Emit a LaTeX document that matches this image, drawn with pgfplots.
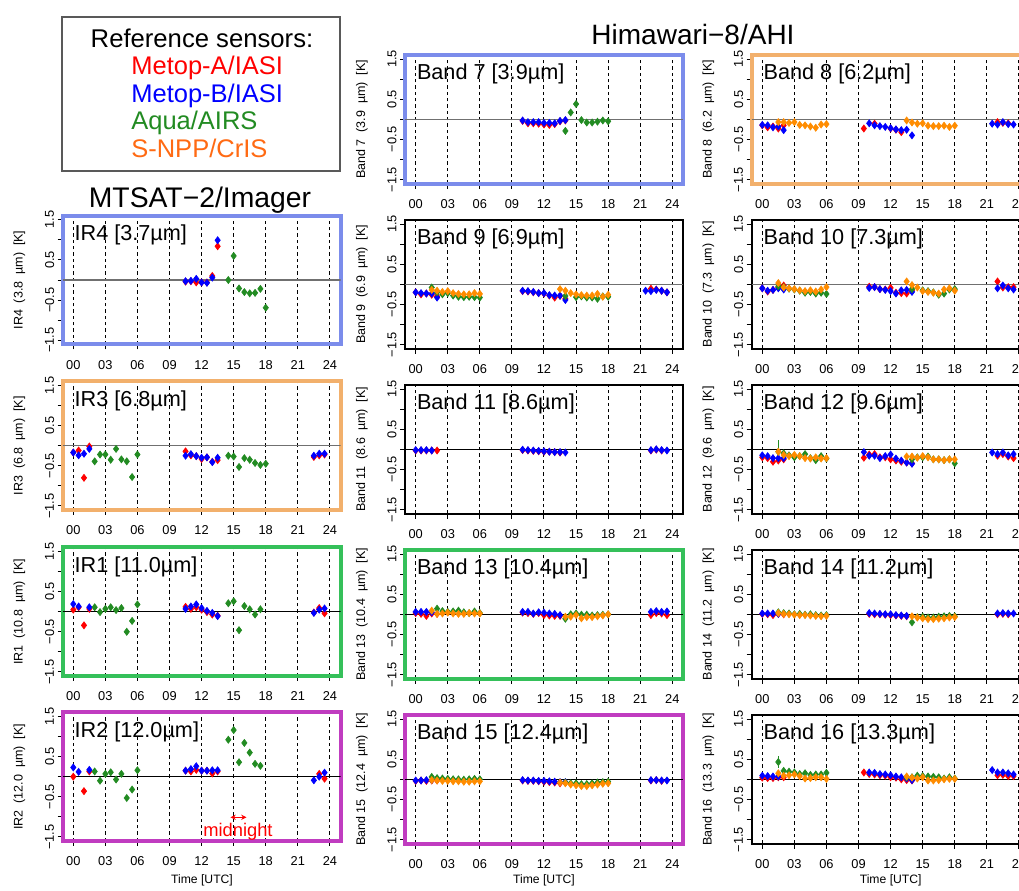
\documentclass[border=0pt]{standalone}
\usepackage{fontspec}
\setmainfont{Liberation Sans}
\usepackage{pgfplots}
\pgfplotsset{compat=1.18}
\usetikzlibrary{arrows.meta}

\definecolor{bdblue}{HTML}{7B8CEB}
\definecolor{bdorange}{HTML}{F2B06C}
\definecolor{bdgreen}{HTML}{35C05A}
\definecolor{bdmag}{HTML}{C03CC0}
\definecolor{mred}{HTML}{FF0000}
\definecolor{mblue}{HTML}{0000FF}
\definecolor{mgreen}{HTML}{228B22}
\definecolor{morange}{HTML}{FF8C00}
\definecolor{lorange}{HTML}{FF6A13}
\definecolor{zgray}{HTML}{707070}

\pgfplotsset{
  panel/.style={
    anchor=south west, scale only axis, width=166.8pt, height=77.16pt,
    xmin=-1, xmax=25, ymin=-1.6, ymax=1.6,
    xtick={0,3,6,9,12,15,18,21,24},
    xticklabels={00,03,06,09,12,15,18,21,24},
    ytick={-1.5,-1,-0.5,0,0.5,1,1.5},
    yticklabels={−1.5,,−0.5,,0.5,,1.5},
    xtick pos=bottom, ytick pos=left,
    tick align=outside, major tick length=3pt,
    every tick/.style={black, line width=0.6pt},
    xmajorgrids, major grid style={black, line width=0.6pt, dash pattern=on 2pt off 1.8pt},
    tick label style={font=\fontsize{7.7}{8}\selectfont, inner sep=0pt},
    xticklabel style={anchor=center}, xticklabel shift=9.3pt,
    yticklabel style={rotate=90, anchor=center}, yticklabel shift=4.8pt,
    axis line style={black, line width=1.1pt},
    ylabel style={at={(axis description cs:-0.155,0.5)}, anchor=center,
      font=\fontsize{7.5}{9}\selectfont},
  },
  bd/.style={axis line style={#1, line width=2.4pt}},
  sR/.style={only marks, mark=diamond*, mark size=2.1pt, color=mred},
  sB/.style={only marks, mark=diamond*, mark size=2.1pt, color=mblue},
  sG/.style={only marks, mark=diamond*, mark size=2.1pt, color=mgreen},
  sO/.style={only marks, mark=diamond*, mark size=2.1pt, color=morange},
}
\newcommand{\ttl}[1]{\node[anchor=base west, inner sep=0pt, xshift=7pt, yshift=-15pt,
  font=\fontsize{13}{15}\selectfont] at (rel axis cs:0,1) {#1};}
\newcommand{\zl}[1]{\addplot[#1, line width=0.8pt, forget plot] coordinates {(-1,0) (25,0)};}

\begin{document}
\begin{tikzpicture}
\path[use as bounding box, clip] (0,0) rectangle (611.4pt,534.6pt);

% legend box and titles
\draw[black!65, line width=0.9pt] (37.2pt,432pt) rectangle (204pt,524.4pt);
\node[anchor=base, inner sep=0pt, font=\fontsize{15.4}{17}\selectfont] at (121.2pt,506pt) {Reference sensors:};
\node[anchor=base west, inner sep=0pt, font=\fontsize{15.3}{17}\selectfont, text=mred] at (78.6pt,489.6pt) {Metop-A/IASI};
\node[anchor=base west, inner sep=0pt, font=\fontsize{15.3}{17}\selectfont, text=mblue] at (78.6pt,473.2pt) {Metop-B/IASI};
\node[anchor=base west, inner sep=0pt, font=\fontsize{15.3}{17}\selectfont, text=mgreen] at (78.6pt,456.6pt) {Aqua/AIRS};
\node[anchor=base west, inner sep=0pt, font=\fontsize{15.3}{17}\selectfont, text=lorange] at (78.6pt,440.2pt) {S-NPP/CrIS};
\node[anchor=base, inner sep=0pt, font=\fontsize{17}{19}\selectfont] at (120pt,409.8pt) {MTSAT−2/Imager};
\node[anchor=base, inner sep=0pt, font=\fontsize{16.8}{19}\selectfont] at (415.8pt,507.6pt) {Himawari−8/AHI};
\node[anchor=base, inner sep=0pt, font=\fontsize{7.3}{9}\selectfont] at (121.2pt,4.2pt) {Time [UTC]};
\node[anchor=base, inner sep=0pt, font=\fontsize{7.3}{9}\selectfont] at (326.4pt,4.2pt) {Time [UTC]};
\node[anchor=base, inner sep=0pt, font=\fontsize{7.3}{9}\selectfont] at (534.4pt,4.2pt) {Time [UTC]};

% ---------------- MTSAT-2 column ----------------
\begin{axis}[panel, bd=bdblue, at={(37.56pt,328pt)}, ylabel={IR4\ \ (3.8\ \ µm)\ \ [K]}]
\zl{zgray}
\addplot[sR] coordinates {(10.5,-0.04)(11,-0.03)(11.5,-0.06)(12,-0.06)(12.5,-0.06)(13,0.1)(13.5,0.84)};
\addplot[sB] coordinates {(10.5,-0.03)(11,-0.02)(11.5,0.03)(12,-0.06)(12.5,-0.07)(13,0.06)(13.5,0.99)};
\addplot[sG] coordinates {(14.5,0)(15,0.6)(15.5,-0.21)(16,-0.3)(16.5,-0.33)(17,-0.32)(17.5,-0.22)(18,-0.69)};
\ttl{IR4 [3.7µm]}
\end{axis}

\begin{axis}[panel, bd=bdorange, at={(37.56pt,228.6pt)}, ylabel={IR3\ \ (6.8\ \ µm)\ \ [K]}]
\zl{zgray}
\addplot[sR] coordinates {(0,-0.17)(0.5,-0.12)(1,-0.8)(1.5,-0.02)(10.5,-0.14)(11,-0.24)(11.5,-0.26)(12,-0.33)(12.5,-0.29)(13,-0.4)(13.5,-0.36)(22.5,-0.28)(23,-0.24)(23.5,-0.22)};
\addplot[sB] coordinates {(0,-0.17)(0.5,-0.24)(1,-0.2)(1.5,-0.08)(10.5,-0.25)(11,-0.21)(11.5,-0.26)(12,-0.3)(12.5,-0.29)(13,-0.41)(13.5,-0.3)(22.5,-0.25)(23,-0.2)(23.5,-0.2)};
\addplot[sG] coordinates {(2,-0.39)(2.5,-0.22)(3,-0.22)(3.5,-0.35)(4,-0.08)(4.5,-0.34)(5,-0.39)(5.5,-0.78)(6,-0.22)(14.5,-0.25)(15,-0.27)(15.5,-0.53)(16,-0.31)(16.5,-0.35)(17,-0.43)(17.5,-0.48)(18,-0.45)};
\ttl{IR3 [6.8µm]}
\end{axis}

\begin{axis}[panel, bd=bdgreen, at={(37.56pt,129pt)}, ylabel={IR1\ \ (10.8\ \ µm)\ \ [K]}]
\zl{black}
\addplot[sR] coordinates {(0,0.05)(0.5,0.11)(1,-0.34)(1.5,0.07)(10.5,0.12)(11,0.07)(11.5,0.11)(12,0.05)(12.5,-0.01)(13,-0.07)(13.5,-0.1)(22.5,-0.02)(23,0.09)(23.5,-0.04)};
\addplot[sB] coordinates {(0,0.19)(0.5,0.13)(1.5,0.11)(10.5,0.07)(11,0.13)(11.5,0.18)(12,0.09)(12.5,0.02)(13,-0.03)(13.5,-0.11)(22.5,-0.03)(23,0.05)(23.5,0.08)};
\addplot[sG] coordinates {(2,0.11)(2.5,-0.01)(3,0.07)(3.5,0.11)(4,0.04)(4.5,0.09)(5,-0.5)(5.5,-0.23)(6,0.18)(14.5,0.21)(15,0.26)(15.5,-0.46)(16,0.14)(16.5,0.06)(17,-0.07)(17.5,0.06)};
\ttl{IR1 [11.0µm]}
\end{axis}

\begin{axis}[panel, bd=bdmag, at={(37.56pt,30pt)}, ylabel={IR2\ \ (12.0\ \ µm)\ \ [K]}]
\zl{black}
\addplot[sR] coordinates {(0,0)(1,-0.36)(1.5,0.13)(10.5,0.15)(11,0.13)(11.5,0.17)(12,0.15)(12.5,0.15)(13,0.08)(13.5,0.13)(23,0.07)(23.5,-0.05)};
\addplot[sB] coordinates {(0,0.23)(0.5,0.12)(1.5,0.17)(10.5,0.15)(11,0.19)(11.5,0.26)(12,0.15)(12.5,0.15)(13,0.16)(13.5,0.16)(22.5,-0.09)(23,0)(23.5,0.1)};
\addplot[sG] coordinates {(2,0.13)(2.5,-0.1)(3,0.07)(3.5,0.11)(4,-0.07)(4.5,0.07)(5,-0.53)(5.5,-0.32)(6,0.16)(14.5,0.92)(15,1.16)(15.5,0.36)(16,0.84)(16.5,0.6)(17,0.32)(17.5,0.27)};
\draw[mred, line width=0.7pt, {Stealth[length=3.2pt,width=3.2pt]}-{Stealth[length=3.2pt,width=3.2pt]}] (axis cs:14.7,-1.01) -- (axis cs:16.2,-1.01);
\node[text=mred, inner sep=0pt, font=\fontsize{11}{12}\selectfont] at (axis cs:15.4,-1.36) {midnight};
\ttl{IR2 [12.0µm]}
\end{axis}

% ---------------- Himawari column 1 ----------------
\begin{axis}[panel, bd=bdblue, at={(243pt,424.44pt)}, ylabel={Band 7\ \ (3.9\ \ µm)\ \ [K]}]
\zl{zgray}
\addplot[sR] coordinates {(10,-0.04)(10.5,-0.1)(11,-0.1)(11.5,-0.11)(12,-0.13)(12.5,-0.14)(13,-0.12)(13.5,-0.05)(14,-0.03)};
\addplot[sB] coordinates {(10,-0.03)(10.5,-0.07)(11,-0.07)(11.5,-0.07)(12,-0.09)(12.5,-0.09)(13,-0.1)(13.5,-0.04)(14,-0.02)};
\addplot[sG] coordinates {(14,-0.29)(14.5,0.17)(15,0.38)(15.5,-0.02)(16,-0.08)(16.5,-0.08)(17,-0.06)(17.5,-0.03)(18,-0.05)};
\ttl{Band 7 [3.9µm]}
\end{axis}

\begin{axis}[panel, at={(243pt,325.44pt)}, ylabel={Band 9\ \ (6.9\ \ µm)\ \ [K]}]
\zl{zgray}
\addplot[sR] coordinates {(0,-0.2)(0.5,-0.25)(1,-0.23)(1.5,-0.26)(2,-0.3)(10,-0.17)(10.5,-0.18)(11,-0.2)(11.5,-0.22)(12,-0.23)(12.5,-0.28)(13,-0.33)(13.5,-0.29)(14,-0.36)(22,-0.11)(22.5,-0.13)(23,-0.16)(23.5,-0.2)};
\addplot[sB] coordinates {(0,-0.2)(0.5,-0.22)(1,-0.23)(1.5,-0.23)(2,-0.33)(10,-0.16)(10.5,-0.17)(11,-0.19)(11.5,-0.22)(12,-0.22)(12.5,-0.27)(13,-0.28)(13.5,-0.28)(14,-0.39)(21.5,-0.16)(22,-0.17)(22.5,-0.14)(23,-0.16)(23.5,-0.2)};
\addplot[sG] coordinates {(1.5,-0.08)(2,-0.2)(2.5,-0.25)(3,-0.22)(3.5,-0.28)(4,-0.31)(4.5,-0.32)(5,-0.31)(5.5,-0.32)(6,-0.33)(14,-0.29)(15,-0.32)(15.5,-0.3)(16,-0.33)(16.5,-0.33)(17,-0.36)(17.5,-0.3)(18,-0.31)};
\addplot[sO] coordinates {(1.5,-0.14)(2,-0.16)(2.5,-0.19)(3,-0.17)(3.5,-0.22)(4,-0.24)(4.5,-0.25)(5,-0.25)(5.5,-0.22)(6,-0.24)(13.5,-0.12)(14,-0.16)(14.5,-0.22)(15,-0.25)(15.5,-0.27)(16,-0.28)(16.5,-0.28)(17,-0.24)(17.5,-0.31)(18,-0.26)};
\ttl{Band 9 [6.9µm]}
\end{axis}

\begin{axis}[panel, at={(243pt,226.44pt)}, ylabel={Band 11\ \ (8.6\ \ µm)\ \ [K]}]
\zl{black}
\addplot[sR] coordinates {(0,-0.03)(0.5,-0.03)(1,-0.03)(1.5,-0.03)(2,-0.03)(10,-0.02)(10.5,-0.03)(11,-0.04)(11.5,-0.05)(12,-0.06)(12.5,-0.06)(13,-0.07)(13.5,-0.08)(22,-0.03)(22.5,-0.01)(23,-0.03)};
\addplot[sB] coordinates {(0,-0.02)(0.5,-0.02)(1,-0.02)(1.5,-0.03)(10,-0.01)(10.5,-0.02)(11,-0.03)(11.5,-0.04)(12,-0.05)(12.5,-0.06)(13,-0.07)(13.5,-0.07)(14,-0.08)(22,-0.02)(22.5,0)(23,-0.02)(23.5,-0.03)};
\ttl{Band 11 [8.6µm]}
\end{axis}

\begin{axis}[panel, bd=bdgreen, at={(243pt,127.44pt)}, ylabel={Band 13\ \ (10.4\ \ µm)\ \ [K]}]
\zl{black}
\addplot[sR] coordinates {(0,0.03)(0.5,0.01)(1,-0.04)(1.5,0.02)(2,0.01)(10,0.04)(10.5,0.03)(11,0.01)(11.5,0.03)(12,-0.02)(12.5,-0.03)(13,-0.04)(13.5,-0.04)(22,-0.02)(22.5,0.03)(23,0.02)(23.5,-0.02)};
\addplot[sB] coordinates {(0,0.06)(0.5,0.06)(1,0.06)(1.5,0.05)(10,0.06)(10.5,0.06)(11,0.02)(11.5,0.05)(12,0.04)(12.5,0.02)(13,0.01)(13.5,-0.02)(22,0.06)(22.5,0.08)(23,0.06)(23.5,0.07)};
\addplot[sG] coordinates {(2,0.14)(2.5,0.08)(3,0.06)(3.5,0.07)(4,0.09)(4.5,0.05)(5,0.03)(5.5,0.07)(6,0.03)(14,-0.11)(14.5,0)(15,0.02)(15.5,-0.01)(16,-0.01)(16.5,-0.03)(17,-0.02)(17.5,-0.01)(18,0)};
\addplot[sO] coordinates {(1.5,0.09)(2,0.01)(2.5,0.02)(3,0.04)(3.5,0.02)(4,0.01)(4.5,0.01)(5,0.03)(5.5,0.02)(6,0.02)(14,-0.06)(14.5,-0.06)(15,-0.02)(15.5,-0.1)(16,-0.07)(16.5,-0.07)(17,-0.05)(17.5,-0.03)(18,0)};
\ttl{Band 13 [10.4µm]}
\end{axis}

\begin{axis}[panel, bd=bdmag, at={(243pt,28.44pt)}, ylabel={Band 15\ \ (12.4\ \ µm)\ \ [K]}]
\zl{black}
\addplot[sR] coordinates {(0,-0.04)(0.5,-0.03)(1,-0.04)(1.5,-0.03)(2,-0.03)(10,-0.03)(10.5,-0.04)(11,-0.04)(11.5,-0.05)(12,-0.06)(12.5,-0.07)(13,-0.08)(13.5,-0.1)(14,-0.08)(22,-0.03)(22.5,-0.02)(23,-0.04)};
\addplot[sB] coordinates {(0,-0.03)(0.5,-0.03)(1,-0.02)(1.5,-0.02)(10,-0.02)(10.5,-0.03)(11,-0.03)(11.5,-0.04)(12,-0.04)(12.5,-0.05)(13,-0.06)(13.5,-0.07)(14,-0.07)(22,-0.02)(22.5,-0.02)(23,-0.03)(23.5,-0.03)};
\addplot[sG] coordinates {(1.5,0.06)(2,0.03)(2.5,0.02)(3,0.01)(3.5,0)(4,0)(4.5,-0.01)(5,0)(5.5,0.01)(6,0)(14,-0.08)(14.5,-0.1)(15,-0.1)(15.5,-0.12)(16,-0.12)(16.5,-0.1)(17,-0.08)(17.5,-0.07)(18,-0.06)};
\addplot[sO] coordinates {(1.5,-0.02)(2,-0.03)(2.5,-0.04)(3,-0.04)(3.5,-0.05)(4,-0.05)(4.5,-0.06)(5,-0.06)(5.5,-0.05)(6,-0.05)(13.5,-0.08)(14,-0.1)(14.5,-0.13)(15,-0.15)(15.5,-0.17)(16,-0.17)(16.5,-0.15)(17,-0.13)(17.5,-0.11)(18,-0.1)};
\ttl{Band 15 [12.4µm]}
\end{axis}

% ---------------- Himawari column 2 ----------------
\begin{axis}[panel, bd=bdorange, at={(450.96pt,424.44pt)}, ylabel={Band 8\ \ (6.2\ \ µm)\ \ [K]}]
\zl{zgray}
\addplot[sR] coordinates {(0,-0.15)(0.5,-0.2)(1,-0.18)(1.5,-0.23)(2,-0.15)(9.5,-0.23)(10.5,-0.11)(12,-0.23)(12.5,-0.26)(13,-0.32)(22,-0.07)(22.5,-0.09)(23,-0.1)};
\addplot[sB] coordinates {(0,-0.14)(0.5,-0.15)(1,-0.2)(1.5,-0.18)(2,-0.27)(10,-0.1)(10.5,-0.15)(11,-0.17)(11.5,-0.19)(12,-0.22)(12.5,-0.25)(13,-0.27)(13.5,-0.26)(14,-0.4)(21.5,-0.11)(22,-0.13)(22.5,-0.07)(23,-0.12)(23.5,-0.13)};
\addplot[sO] coordinates {(1.5,-0.07)(2,-0.07)(2.5,-0.09)(3,-0.07)(3.5,-0.14)(4,-0.15)(4.5,-0.18)(5,-0.21)(5.5,-0.13)(6,-0.12)(13.5,-0.03)(14,-0.08)(14.5,-0.11)(15,-0.1)(15.5,-0.16)(16,-0.17)(16.5,-0.17)(17,-0.16)(17.5,-0.19)(18,-0.16)};
\ttl{Band 8 [6.2µm]}
\end{axis}

\begin{axis}[panel, at={(450.96pt,325.44pt)}, ylabel={Band 10\ \ (7.3\ \ µm)\ \ [K]}]
\zl{zgray}
\addplot[sR] coordinates {(0,-0.1)(0.5,-0.18)(1,-0.14)(1.5,-0.08)(2,-0.03)(10,-0.06)(10.5,-0.07)(11,-0.12)(11.5,-0.13)(12,-0.09)(12.5,-0.21)(13,-0.22)(13.5,-0.23)(14,-0.15)(22,0.07)(22.5,-0.08)(23,-0.07)(23.5,-0.07)};
\addplot[sB] coordinates {(0,-0.1)(0.5,-0.16)(1,-0.14)(1.5,-0.1)(2,-0.13)(10,-0.09)(10.5,-0.07)(11,-0.12)(11.5,-0.14)(12,-0.17)(12.5,-0.23)(13,-0.15)(13.5,-0.14)(14,-0.19)(22,-0.1)(22.5,-0.03)(23,-0.1)(23.5,-0.13)};
\addplot[sG] coordinates {(1.5,-0.05)(2,-0.07)(2.5,-0.11)(3,-0.13)(3.5,-0.16)(4,-0.21)(4.5,-0.19)(5,-0.23)(5.5,-0.21)(6,-0.24)(14,-0.12)(15,-0.15)(15.5,-0.17)(16,-0.2)(16.5,-0.26)(17,-0.23)(17.5,-0.13)(18,-0.12)};
\addplot[sO] coordinates {(1.5,0.03)(2,-0.08)(2.5,-0.1)(3,-0.12)(3.5,-0.15)(4,-0.17)(4.5,-0.15)(5,-0.18)(5.5,-0.13)(6,-0.07)(13.5,0.07)(14,-0.02)(14.5,-0.08)(15,-0.17)(15.5,-0.19)(16,-0.21)(16.5,-0.23)(17,-0.13)(17.5,-0.1)(18,-0.16)};
\ttl{Band 10 [7.3µm]}
\end{axis}

\begin{axis}[panel, at={(450.96pt,226.44pt)}, ylabel={Band 12\ \ (9.6\ \ µm)\ \ [K]}]
\zl{black}
\addplot[sR] coordinates {(0,-0.2)(0.5,-0.22)(1,-0.31)(1.5,-0.28)(2,-0.25)(9.5,-0.21)(10,-0.13)(10.5,-0.12)(11,-0.2)(11.5,-0.2)(12,-0.25)(12.5,-0.28)(13,-0.31)(13.5,-0.33)(14,-0.35)(22,-0.16)(22.5,-0.12)(23,-0.18)(23.5,-0.22)};
\addplot[sB] coordinates {(0,-0.15)(0.5,-0.17)(1,-0.22)(1.5,-0.22)(2,-0.22)(9.5,-0.07)(10,-0.16)(10.5,-0.16)(11,-0.22)(11.5,-0.17)(12,-0.13)(12.5,-0.23)(13,-0.28)(13.5,-0.33)(14,-0.36)(21.5,-0.08)(22,-0.12)(22.5,-0.08)(23,-0.15)(23.5,-0.12)};
\addplot[sG] coordinates {(2,-0.1)(2.5,-0.15)(3,-0.2)(3.5,-0.17)(4,-0.12)(4.5,-0.22)(5,-0.27)(5.5,-0.17)(6,-0.23)(14,-0.25)(14.5,-0.2)(15,-0.2)(15.5,-0.18)(16,-0.25)(16.5,-0.25)(17,-0.27)(17.5,-0.25)(18,-0.35)};
\addplot[sG, error bars/.cd, y dir=plus, y explicit, error mark=none, error bar style={mgreen, line width=0.6pt}] coordinates {(1.5,-0.06) +- (0,0.29)};
\addplot[sO] coordinates {(1.5,-0.06)(2,-0.14)(2.5,-0.17)(3,-0.14)(3.5,-0.17)(4,-0.22)(4.5,-0.23)(5,-0.2)(5.5,-0.23)(6,-0.22)(13.5,-0.18)(14,-0.18)(14.5,-0.21)(15,-0.17)(15.5,-0.2)(16,-0.25)(16.5,-0.25)(17,-0.27)(17.5,-0.25)(18,-0.25)};
\ttl{Band 12 [9.6µm]}
\end{axis}

\begin{axis}[panel, at={(450.96pt,127.44pt)}, ylabel={Band 14\ \ (11.2\ \ µm)\ \ [K]}]
\zl{black}
\addplot[sR] coordinates {(0,0.01)(0.5,0)(1,-0.02)(1.5,0.01)(2,0)(10,0.01)(10.5,0)(11,0)(11.5,-0.01)(12,-0.02)(12.5,-0.03)(13,-0.04)(13.5,-0.05)(22,0)(22.5,0.01)(23,0)};
\addplot[sB] coordinates {(0,0.02)(0.5,0.02)(1,0.02)(1.5,0.01)(10,0.03)(10.5,0.02)(11,0.01)(11.5,0)(12,0)(12.5,-0.02)(13,-0.03)(13.5,-0.04)(22,0.02)(22.5,0.03)(23,0.02)(23.5,0.02)};
\addplot[sG] coordinates {(1.5,0.05)(2,0.03)(2.5,0.02)(3,0)(3.5,0.01)(4,-0.01)(4.5,0)(5,-0.02)(5.5,-0.03)(6,-0.02)(14,-0.2)(14.5,-0.07)(15,-0.06)(15.5,-0.08)(16,-0.08)(16.5,-0.06)(17,-0.05)(17.5,-0.04)(18,-0.05)};
\addplot[sO] coordinates {(1.5,0.03)(2,0.01)(2.5,0)(3,-0.01)(3.5,-0.02)(4,-0.02)(4.5,-0.03)(5,-0.04)(5.5,-0.05)(6,-0.04)(14,-0.05)(14.5,-0.08)(15,-0.1)(15.5,-0.12)(16,-0.12)(16.5,-0.11)(17,-0.1)(17.5,-0.08)(18,-0.07)};
\ttl{Band 14 [11.2µm]}
\end{axis}

\begin{axis}[panel, at={(450.96pt,28.44pt)}, ylabel={Band 16\ \ (13.3\ \ µm)\ \ [K]}]
\zl{black}
\addplot[sR] coordinates {(0,0.04)(0.5,0.03)(1,0.03)(1.5,0.05)(2,0.05)(9.5,0.17)(10,0.13)(10.5,0.12)(11,0.1)(11.5,0.09)(12,0.05)(12.5,0.04)(13,0)(13.5,-0.02)(14,-0.03)(22,0.1)(22.5,0.11)(23,0.08)(23.5,0.08)};
\addplot[sB] coordinates {(0,0.09)(0.5,0.08)(1,0.07)(1.5,0.07)(10,0.17)(10.5,0.16)(11,0.13)(11.5,0.12)(12,0.1)(12.5,0.07)(13,0.05)(13.5,0.02)(14,-0.02)(21.5,0.23)(22,0.17)(22.5,0.17)(23,0.15)(23.5,0.12)};
\addplot[sG] coordinates {(2,0.21)(2.5,0.19)(3,0.17)(3.5,0.13)(4,0.15)(4.5,0.11)(5,0.12)(5.5,0.12)(6,0.16)(13.5,0.05)(14,0.05)(14.5,0.09)(15,0.08)(15.5,0.07)(16,0.06)(16.5,0.05)(17,0.02)(17.5,0.05)(18,0.02)};
\addplot[sG, error bars/.cd, y dir=both, y explicit, error mark=none, error bar style={mgreen, line width=0.6pt}] coordinates {(1.5,0.43) +- (0,0.15)};
\addplot[sO] coordinates {(1.5,0.15)(2,0.09)(2.5,0.1)(3,0.12)(3.5,0.08)(4,0.02)(4.5,0.03)(5,0.05)(5.5,0.05)(6,0.01)(13.5,0.07)(14,0.04)(14.5,0.02)(15,0.05)(15.5,-0.03)(16,-0.03)(16.5,-0.02)(17,0)(17.5,0.01)(18,0.01)};
\ttl{Band 16 [13.3µm]}
\end{axis}
\end{tikzpicture}
\end{document}
